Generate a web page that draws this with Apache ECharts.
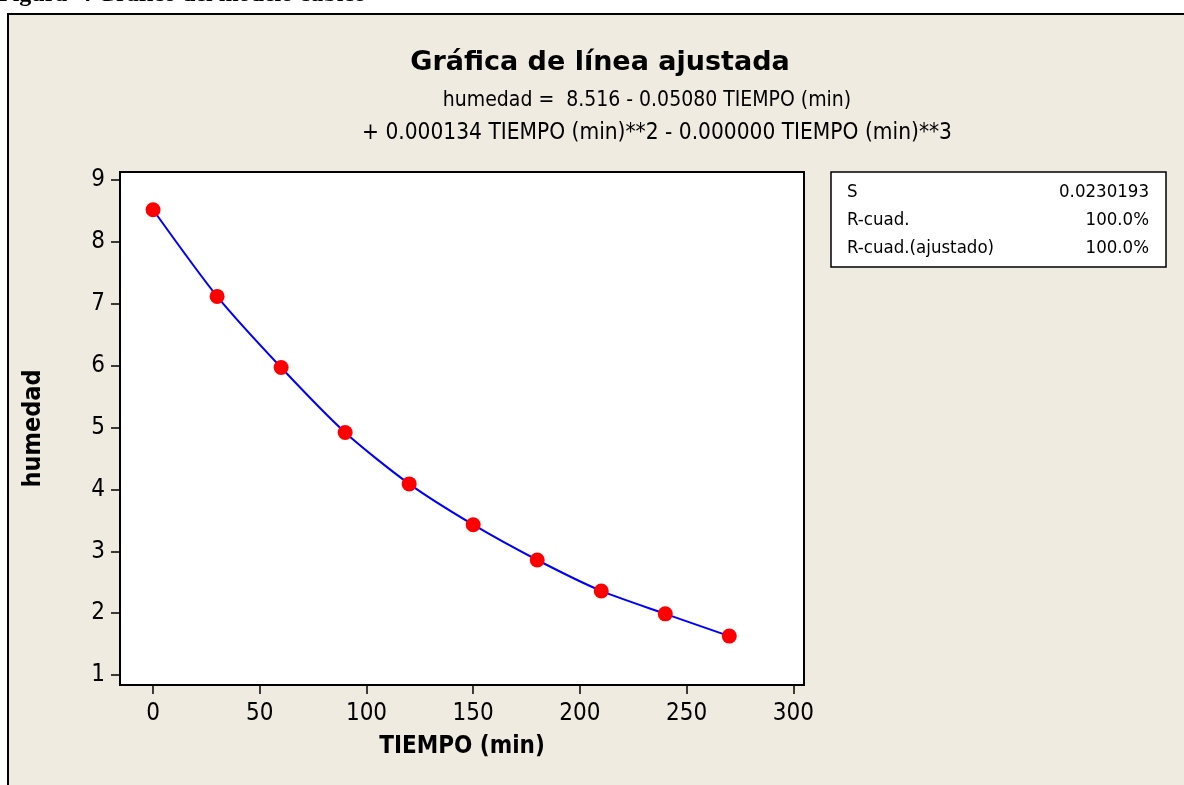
<!DOCTYPE html>
<html>
<head>
<meta charset="utf-8">
<title>Gráfica de línea ajustada</title>
<script src="https://cdn.jsdelivr.net/npm/echarts@6/dist/echarts.min.js"></script>
<style>
  html, body { margin: 0; padding: 0; background: #ffffff; }
  #main { width: 1184px; height: 785px; }
</style>
</head>
<body>
<div id="main"></div>
<script>
  // datos
  var tiempo = [0, 30, 60, 90, 120, 150, 180, 210, 240, 270]
  var humedad = [8.52, 7.12, 5.97, 4.92, 4.09, 3.43, 2.86, 2.36, 1.99, 1.63]
  var xTicks = [0, 50, 100, 150, 200, 250, 300]
  var yTicks = [1, 2, 3, 4, 5, 6, 7, 8, 9]
  var statNames = ['S', 'R-cuad.', 'R-cuad.(ajustado)']
  var statValues = ['0.0230193', '100.0%', '100.0%']

  var font = "'DejaVu Sans Condensed', 'DejaVu Sans', sans-serif"
  var bg = '#efebe0'

  var myChart = echarts.init(document.getElementById('main'))

  var points = tiempo.map(function (t, i) { return [t, humedad[i]] })

  // cuadro de estadisticas
  var statBox = [{
    type: 'rect',
    shape: { x: 831, y: 172, width: 335, height: 95 },
    style: { fill: '#ffffff', stroke: '#000000', lineWidth: 1.5 }
  }]
  statNames.forEach(function (n, i) {
    statBox.push({
      type: 'text', x: 847, y: 192 + i * 28,
      style: { text: n, font: '18.5px ' + font, fill: '#000', verticalAlign: 'middle' }
    })
    statBox.push({
      type: 'text', x: 1149, y: 192 + i * 28,
      style: { text: statValues[i], font: '18.5px ' + font, fill: '#000', align: 'right', verticalAlign: 'middle' }
    })
  })

  var option = {
    backgroundColor: '#ffffff',
    animation: false,
    graphic: [
      {
        type: 'rect', z: -10,
        shape: { x: 8, y: 14, width: 1200, height: 800 },
        style: { fill: bg, stroke: '#000000', lineWidth: 2 }
      },
      {
        // pie de figura cortado arriba
        type: 'text', x: -2, y: 7,
        style: { text: 'Figura  4 Gráfico del modelo cúbico', font: 'bold 24px "Liberation Serif", serif', fill: '#000', verticalAlign: 'bottom' }
      },
      {
        type: 'text', x: 600, y: 63,
        style: { text: 'Gráfica de línea ajustada', font: 'bold 27px "DejaVu Sans", sans-serif', fill: '#000', align: 'center', verticalAlign: 'middle' }
      },
      {
        type: 'text', x: 647, y: 101,
        style: { text: 'humedad =  8.516 - 0.05080 TIEMPO (min)', font: '21px ' + font, fill: '#000', align: 'center', verticalAlign: 'middle' }
      },
      {
        type: 'text', x: 657, y: 133,
        style: { text: '+ 0.000134 TIEMPO (min)**2 - 0.000000 TIEMPO (min)**3', font: '22.5px ' + font, fill: '#000', align: 'center', verticalAlign: 'middle' }
      }
    ].concat(statBox),
    grid: {
      left: 120,
      top: 172,
      width: 684,
      height: 513,
      show: true,
      backgroundColor: '#ffffff',
      borderColor: '#000000',
      borderWidth: 2
    },
    xAxis: {
      type: 'value',
      min: -15.5,
      max: 305,
      name: 'TIEMPO (min)',
      nameLocation: 'middle',
      nameGap: 50,
      nameTextStyle: { fontFamily: font, fontWeight: 'bold', fontSize: 24, color: '#000' },
      axisLine: { show: true, onZero: false, lineStyle: { color: '#000', width: 2 } },
      axisTick: { show: true, length: 9, lineStyle: { color: '#000', width: 1.5 }, customValues: xTicks },
      axisLabel: { fontFamily: font, fontSize: 24, color: '#000', margin: 17, customValues: xTicks },
      splitLine: { show: false }
    },
    yAxis: {
      type: 'value',
      min: 0.84,
      max: 9.13,
      name: 'humedad',
      nameLocation: 'middle',
      nameGap: 74,
      nameRotate: 90,
      nameTextStyle: { fontFamily: font, fontWeight: 'bold', fontSize: 25, color: '#000' },
      axisLine: { show: true, onZero: false, lineStyle: { color: '#000', width: 2 } },
      axisTick: { show: true, length: 9, lineStyle: { color: '#000', width: 1.5 }, customValues: yTicks },
      axisLabel: { fontFamily: font, fontSize: 24, color: '#000', margin: 15, customValues: yTicks },
      splitLine: { show: false }
    },
    series: [
      {
        name: 'ajuste',
        type: 'line',
        data: points,
        smooth: 0.25,
        symbol: 'none',
        lineStyle: { color: '#0000ff', width: 2 },
        z: 2
      },
      {
        name: 'humedad',
        type: 'scatter',
        data: points,
        symbolSize: 15,
        itemStyle: { color: '#ff0000', opacity: 1 },
        z: 3
      }
    ]
  }

  myChart.setOption(option)
</script>
</body>
</html>
